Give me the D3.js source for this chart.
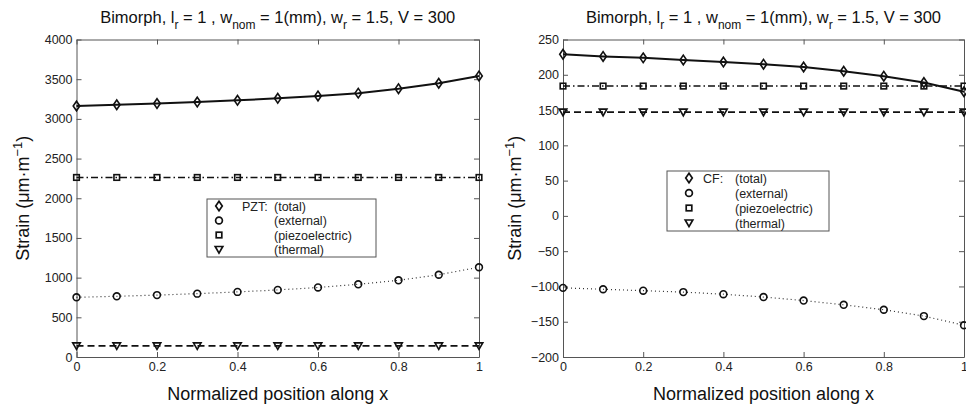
<!DOCTYPE html>
<html>
<head>
<meta charset="utf-8">
<script src="https://cdn.jsdelivr.net/npm/d3@7"></script>
<style>
  body { margin: 0; background: #fff; }
  svg { display: block; font-family: "Liberation Sans", Arial, sans-serif; }
</style>
</head>
<body>
<svg id="chart" width="966" height="408"></svg>
<script>
// normalized position along the beam
const positions = [0, 0.1, 0.2, 0.3, 0.4, 0.5, 0.6, 0.7, 0.8, 0.9, 1]

// PZT panel (left)
const pztTotal = [3162, 3178, 3193, 3212, 3234, 3259, 3289, 3324, 3380, 3449, 3541]
const pztExternal = [752, 765, 780, 798, 820, 845, 876, 916, 966, 1036, 1131]
const pztPiezo = [2262, 2262, 2262, 2262, 2262, 2262, 2262, 2262, 2262, 2262, 2262]
const pztThermal = [140, 140, 140, 140, 140, 140, 140, 140, 140, 140, 140]
const pztTicks = [0, 500, 1000, 1500, 2000, 2500, 3000, 3500, 4000]

// CF panel (right)
const cfTotal = [229, 226, 224, 221, 218, 215, 211, 205, 198, 189, 176]
const cfExternal = [-102, -104, -106, -108, -111, -115, -120, -126, -133, -142, -155]
const cfPiezo = [184, 184, 184, 184, 184, 184, 184, 184, 184, 184, 184]
const cfThermal = [147, 147, 147, 147, 147, 147, 147, 147, 147, 147, 147]
const cfTicks = [-200, -150, -100, -50, 0, 50, 100, 150, 200, 250]

const xTicks = [0, 0.2, 0.4, 0.6, 0.8, 1]
const legendLabels = ['(total)', '(external)', '(piezoelectric)', '(thermal)']

const svg = d3.select('#chart')
const ink = '#111'

function marker(sel, kind) {
  if (kind === 'circle') {
    sel.append('circle').attr('r', 3.4)
  } else if (kind === 'diamond') {
    sel.append('path').attr('d', 'M0,-4.8L3.3,0L0,4.8L-3.3,0Z')
  } else if (kind === 'square') {
    sel.append('rect').attr('x', -2.8).attr('y', -2.8).attr('width', 5.6).attr('height', 5.6)
  } else {
    sel.append('path').attr('d', 'M-3.8,-3L3.8,-3L0,3.6Z')
  }
}

function panel(opts) {
  const { left, right, top, bottom } = opts
  const g = svg.append('g')

  const x = d3.scaleLinear().domain([0, 1]).range([left, right])
  const y = d3.scaleLinear().domain(opts.domain).range([bottom, top])

  const axisColor = '#555'
  const styleAxis = a => {
    a.select('.domain').attr('stroke', axisColor)
    a.selectAll('.tick line').attr('stroke', axisColor)
    a.selectAll('.tick text').attr('fill', '#222').style('font-size', '12.5px')
      .style('font-family', '"Liberation Sans", Arial, sans-serif')
  }

  g.append('g').attr('transform', `translate(0,${bottom})`)
    .call(d3.axisBottom(x).tickValues(xTicks).tickFormat(d3.format('~g'))
      .tickSizeInner(-5).tickSizeOuter(0).tickPadding(5))
    .call(styleAxis)
  g.append('g').attr('transform', `translate(0,${top})`)
    .call(d3.axisTop(x).tickValues(xTicks).tickFormat('')
      .tickSizeInner(-5).tickSizeOuter(0))
    .call(styleAxis)
  g.append('g').attr('transform', `translate(${left},0)`)
    .call(d3.axisLeft(y).tickValues(opts.ticks).tickFormat(d3.format('d'))
      .tickSizeInner(-5).tickSizeOuter(0).tickPadding(4))
    .call(styleAxis)
  g.append('g').attr('transform', `translate(${right},0)`)
    .call(d3.axisRight(y).tickValues(opts.ticks).tickFormat('')
      .tickSizeInner(-5).tickSizeOuter(0))
    .call(styleAxis)

  const line = d3.line().x((d, i) => x(positions[i])).y(d => y(d))

  const series = [
    { values: opts.total, kind: 'diamond', dash: null, width: 2, color: ink },
    { values: opts.external, kind: 'circle', dash: '1,3', width: 1.2, color: '#333' },
    { values: opts.piezo, kind: 'square', dash: '7,3,1.5,3', width: 1.5, color: ink },
    { values: opts.thermal, kind: 'triangle', dash: '7,4', width: 1.8, color: ink }
  ]

  series.forEach(s => {
    g.append('path').datum(s.values)
      .attr('d', line)
      .attr('fill', 'none')
      .attr('stroke', s.color)
      .attr('stroke-width', s.width)
      .attr('stroke-dasharray', s.dash)

    g.append('g').selectAll('g')
      .data(s.values)
      .join('g')
      .attr('transform', (d, i) => `translate(${x(positions[i])},${y(d)})`)
      .attr('fill', 'none')
      .attr('stroke', ink)
      .attr('stroke-width', 1.6)
      .each(function() { marker(d3.select(this), s.kind) })
  })

  // title
  const title = g.append('text')
    .attr('x', (left + right) / 2).attr('y', 23)
    .attr('text-anchor', 'middle')
    .attr('fill', '#111')
    .style('font-size', '16.5px')
  title.append('tspan').text('Bimorph, l')
  title.append('tspan').attr('dy', 6).style('font-size', '12px').text('r')
  title.append('tspan').attr('dy', -6).text(' = 1 , w')
  title.append('tspan').attr('dy', 6).style('font-size', '12px').text('nom')
  title.append('tspan').attr('dy', -6).text(' = 1(mm), w')
  title.append('tspan').attr('dy', 6).style('font-size', '12px').text('r')
  title.append('tspan').attr('dy', -6).text(' = 1.5, V = 300')

  // x label
  g.append('text')
    .attr('x', (left + right) / 2).attr('y', 400)
    .attr('text-anchor', 'middle').attr('fill', '#111')
    .style('font-size', '18px')
    .text('Normalized position along x')

  // y label
  const yl = g.append('text')
    .attr('transform', `translate(${left - opts.ylabelGap},${(top + bottom) / 2}) rotate(-90)`)
    .attr('text-anchor', 'middle').attr('fill', '#111')
    .style('font-size', '18px')
  yl.append('tspan').text('Strain (\u03bcm\u00b7m')
  yl.append('tspan').attr('dy', -7).style('font-size', '13px').text('\u22121')
  yl.append('tspan').attr('dy', 7).text(')')

  // legend
  const lg = opts.legend
  const leg = g.append('g')
  leg.append('rect')
    .attr('x', lg.x).attr('y', lg.y).attr('width', lg.w).attr('height', lg.h)
    .attr('fill', '#fff').attr('stroke', '#555').attr('stroke-width', 1)
  series.forEach((s, i) => {
    const ry = lg.y + 7 + i * lg.step
    const m = leg.append('g')
      .attr('transform', `translate(${lg.x + lg.mx},${ry})`)
      .attr('fill', 'none').attr('stroke', ink).attr('stroke-width', 1.7)
    marker(m, s.kind)
    leg.append('text')
      .attr('x', lg.x + lg.tx).attr('y', ry + 4.5)
      .attr('fill', '#222').style('font-size', '12.5px')
      .text(legendLabels[i])
  })
  leg.append('text')
    .attr('x', lg.x + lg.px).attr('y', lg.y + 11.5)
    .attr('fill', '#222').style('font-size', '12.5px')
    .text(lg.prefix)
}

panel({
  left: 76.5, right: 479, top: 39.5, bottom: 357, ylabelGap: 48,
  domain: [0, 4000], ticks: pztTicks,
  total: pztTotal, external: pztExternal, piezo: pztPiezo, thermal: pztThermal,
  legend: { x: 207, y: 199, w: 169, h: 58, step: 14.5, mx: 12, px: 35, tx: 67, prefix: 'PZT:' }
})

panel({
  left: 563, right: 964, top: 39.5, bottom: 357, ylabelGap: 42,
  domain: [-200, 250], ticks: cfTicks,
  total: cfTotal, external: cfExternal, piezo: cfPiezo, thermal: cfThermal,
  legend: { x: 667, y: 171, w: 162, h: 60, step: 15, mx: 22, px: 36, tx: 68, prefix: 'CF:' }
})
</script>
</body>
</html>
